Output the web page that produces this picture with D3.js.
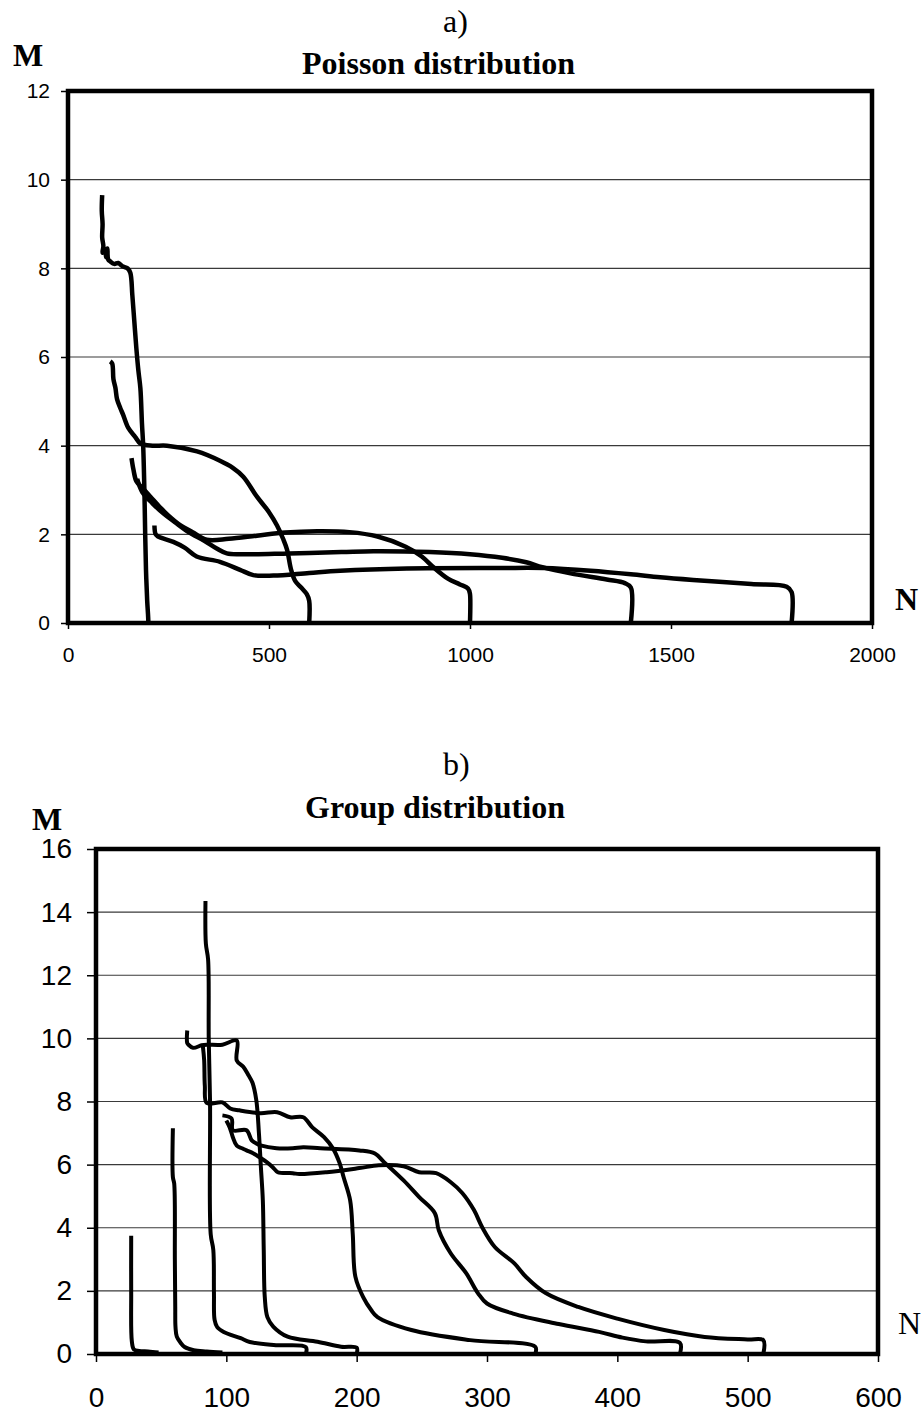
<!DOCTYPE html>
<html>
<head>
<meta charset="utf-8">
<title>Poisson / Group distribution</title>
<script src="https://cdn.jsdelivr.net/npm/d3@7"></script>
<style>
  html, body { margin: 0; padding: 0; background: #fff; }
  svg { display: block; }
  .tick text { font-family: "Liberation Sans", Arial, sans-serif; fill: #000; }
  .serif { font-family: "Liberation Serif", "Times New Roman", serif; fill: #000; }
</style>
</head>
<body>
<svg id="chart" width="922" height="1414"></svg>
<script>
// ---- panel a) Poisson distribution, [N, M] pairs ----
const poissonTicksX = [0, 500, 1000, 1500, 2000];
const poissonTicksY = [0, 2, 4, 6, 8, 10, 12];

const poisson200 = [[85,9.65],[84,9.3],[86,9.0],[85,8.7],[88,8.5],[86,8.35],[92,8.4],[95,8.25],[98,8.45],[100,8.2],[106,8.15],[115,8.1],[125,8.12],[135,8.05],[148,8.0],[155,7.9],[160,7.4],[165,6.8],[170,6.2],[175,5.7],[180,5.3],[184,4.5],[187,4.0],[190,3.0],[192,2.0],[194,1.2],[197,0.5],[199,0.2],[200,0]];
const poisson600 = [[105,5.9],[110,5.85],[113,5.5],[118,5.3],[122,5.05],[130,4.85],[137,4.7],[150,4.4],[167,4.2],[180,4.05],[210,4.0],[246,4.0],[321,3.87],[378,3.66],[410,3.5],[436,3.3],[470,2.85],[500,2.5],[520,2.2],[535,1.9],[545,1.65],[555,1.2],[565,0.95],[580,0.8],[594,0.65],[600,0.5],[600,0]];
const poisson1000 = [[158,3.72],[163,3.45],[170,3.2],[185,3.05],[205,2.85],[230,2.6],[250,2.42],[280,2.2],[310,2.05],[345,1.88],[400,1.9],[470,1.97],[540,2.04],[620,2.07],[700,2.05],[770,1.95],[840,1.72],[880,1.5],[910,1.25],[945,1.0],[975,0.87],[995,0.78],[1000,0.65],[1000,0]];
const poisson1400 = [[172,3.25],[185,2.95],[210,2.7],[240,2.45],[265,2.28],[300,2.05],[340,1.85],[370,1.68],[395,1.57],[430,1.55],[550,1.57],[680,1.6],[760,1.62],[900,1.6],[1000,1.55],[1080,1.47],[1140,1.37],[1180,1.26],[1250,1.12],[1340,0.98],[1385,0.9],[1400,0.8],[1400,0]];
const poisson1800 = [[215,2.2],[218,2.0],[224,1.95],[262,1.83],[290,1.7],[320,1.5],[378,1.38],[428,1.2],[461,1.08],[511,1.07],[600,1.13],[677,1.18],[843,1.23],[1075,1.24],[1182,1.24],[1300,1.18],[1400,1.1],[1473,1.03],[1555,0.97],[1700,0.88],[1788,0.82],[1800,0.7],[1800,0]];

// ---- panel b) Group distribution ----
const groupTicksX = [0, 100, 200, 300, 400, 500, 600];
const groupTicksY = [0, 2, 4, 6, 8, 10, 12, 14, 16];

const group48 = [[27,3.75],[27,2.0],[27.5,0.4],[29,0.15],[33,0.1],[40,0.08],[48,0.05]];
const group97 = [[59,7.15],[59,5.6],[60,5.4],[60.5,3.0],[60.8,1.5],[61,0.85],[62,0.55],[65,0.35],[68,0.22],[75,0.12],[85,0.08],[97,0.05]];
const group161 = [[84,14.35],[84.3,13.0],[86,12.5],[86.5,10],[87.5,8.0],[88,3.8],[90,3.3],[90.5,1.93],[91,1.08],[93,0.85],[98,0.7],[111,0.5],[118,0.38],[138,0.28],[161,0.22],[161,0]];
const group200 = [[70,10.25],[70,9.85],[71,9.8],[74.5,9.7],[81,9.78],[85,9.8],[97,9.8],[108,9.93],[108,9.3],[113,9.1],[117,8.83],[120,8.6],[123,8.04],[125,7.0],[126.5,5.93],[128,4.87],[128.7,3.3],[129.5,1.8],[131.5,1.17],[136,0.87],[147,0.55],[170,0.39],[188,0.23],[200,0.2],[200,0]];
const group337 = [[82,9.75],[83,9.3],[83.5,8.5],[85,7.95],[97,7.97],[103,7.78],[110,7.72],[126,7.63],[139,7.66],[149,7.5],[159,7.5],[166,7.18],[175,6.87],[182,6.5],[187,6.04],[190,5.6],[195,4.87],[197,3.8],[199,2.45],[205,1.8],[211,1.4],[216,1.17],[242,0.76],[287,0.44],[337,0.23],[337,0]];
const group448 = [[97,7.56],[104,7.46],[105,7.09],[115.5,7.09],[119.5,6.77],[123,6.67],[127,6.6],[138.5,6.52],[151,6.52],[159,6.55],[172,6.52],[202,6.45],[214,6.35],[221,6.08],[236,5.5],[248,4.97],[260,4.46],[263,3.92],[272,3.2],[284,2.56],[293,1.93],[300,1.6],[320,1.28],[355,0.95],[386,0.7],[404,0.52],[422,0.4],[448,0.35],[448,0]];
const group512 = [[100,7.4],[102.6,7.18],[105,6.87],[108,6.6],[112,6.52],[115.5,6.45],[120.5,6.36],[125.6,6.23],[131,6.08],[135.6,5.92],[139.5,5.76],[151,5.73],[156,5.7],[177,5.76],[202,5.89],[217,5.98],[236,5.95],[248,5.76],[261,5.73],[272,5.45],[281,5.1],[290,4.56],[296.5,4.0],[306,3.39],[321,2.87],[330,2.44],[345,1.93],[370,1.49],[400,1.12],[436,0.76],[467,0.54],[500,0.46],[512,0.44],[512,0]];

const svg = d3.select('#chart');
svg.append('rect').attr('width', 922).attr('height', 1414).attr('fill', '#fff');

function drawPanel(p) {
    const x = d3.scaleLinear().domain([p.xTicks[0], p.xTicks[p.xTicks.length - 1]]).range([p.left, p.right]);
    const y = d3.scaleLinear().domain([p.yTicks[0], p.yTicks[p.yTicks.length - 1]]).range([p.bottom, p.top]);
    const g = svg.append('g');

    // horizontal grid lines
    g.append('g').selectAll('line')
        .data(p.yTicks.slice(1, -1))
        .join('line')
        .attr('x1', p.left).attr('x2', p.right)
        .attr('y1', d => y(d)).attr('y2', d => y(d))
        .attr('stroke', '#3a3a3a')
        .attr('stroke-width', 1.2);

    const yAxis = g.append('g')
        .attr('transform', `translate(${p.left},0)`)
        .call(d3.axisLeft(y).tickValues(p.yTicks).tickSize(p.tickY).tickPadding(p.padY).tickFormat(d3.format('d')));
    const xAxis = g.append('g')
        .attr('transform', `translate(0,${p.bottom})`)
        .call(d3.axisBottom(x).tickValues(p.xTicks).tickSize(p.tickX).tickPadding(p.padX).tickFormat(d3.format('d')));
    [yAxis, xAxis].forEach(a => {
        a.select('.domain').remove();
        a.selectAll('.tick line').attr('stroke', '#000').attr('stroke-width', 1.5);
        a.selectAll('.tick text').attr('font-size', p.tickFont);
    });

    // curves
    const line = d3.line()
        .x(d => x(d[0]))
        .y(d => y(d[1]))
        .curve(d3.curveCatmullRom.alpha(0.5));
    g.append('g').selectAll('path')
        .data(p.series)
        .join('path')
        .attr('d', line)
        .attr('fill', 'none')
        .attr('stroke', '#000')
        .attr('stroke-width', p.lineW)
        .attr('stroke-linejoin', 'round');

    // frame
    g.append('rect')
        .attr('x', p.left).attr('y', p.top)
        .attr('width', p.right - p.left).attr('height', p.bottom - p.top)
        .attr('fill', 'none').attr('stroke', '#000').attr('stroke-width', 4.5);

    // texts
    const t = (txt, tx, ty, bold) => g.append('text')
        .attr('class', 'serif')
        .attr('x', tx).attr('y', ty)
        .attr('font-size', 32)
        .attr('font-weight', bold ? 'bold' : 'normal')
        .text(txt);
    t(p.letter, p.letterX, p.letterY, false);
    t(p.title, p.titleX, p.titleY, true);
    t('M', p.mX, p.mY, true);
    t('N', p.nX, p.nY, p.nBold);
}

drawPanel({
    xTicks: poissonTicksX, yTicks: poissonTicksY,
    series: [poisson200, poisson600, poisson1000, poisson1400, poisson1800],
    left: 68, right: 872, top: 91, bottom: 623,
    tickY: 7, padY: 11, tickX: 6, padX: 18, tickFont: 21, lineW: 4.5,
    letter: 'a)', letterX: 443, letterY: 32,
    title: 'Poisson distribution', titleX: 302, titleY: 74,
    mX: 13, mY: 66, nX: 895, nY: 610, nBold: true
});

drawPanel({
    xTicks: groupTicksX, yTicks: groupTicksY,
    series: [group48, group97, group161, group200, group337, group448, group512],
    left: 96, right: 878, top: 849, bottom: 1354,
    tickY: 9, padY: 15, tickX: 8, padX: 25, tickFont: 28, lineW: 4,
    letter: 'b)', letterX: 443, letterY: 775,
    title: 'Group distribution', titleX: 305, titleY: 818,
    mX: 32, mY: 830, nX: 898, nY: 1334, nBold: false
});
</script>
</body>
</html>
